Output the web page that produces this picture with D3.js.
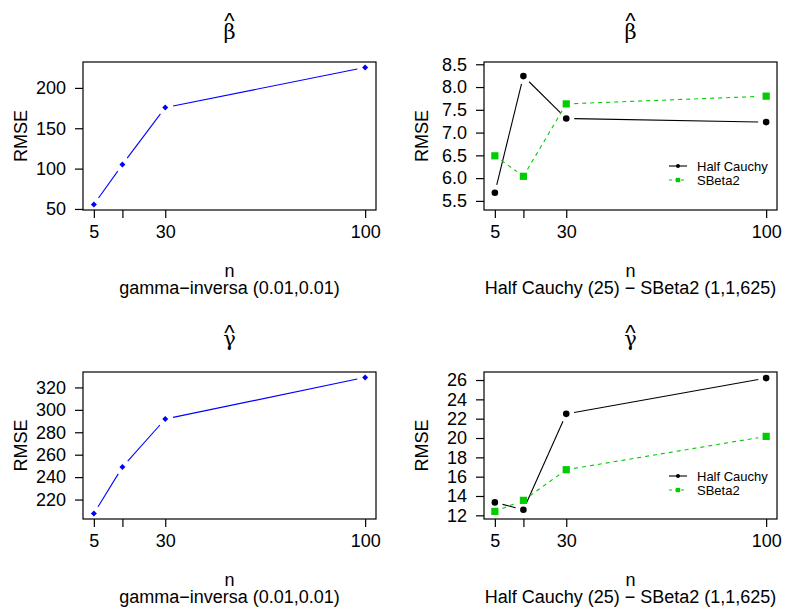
<!DOCTYPE html>
<html>
<head>
<meta charset="utf-8">
<script src="https://cdn.jsdelivr.net/npm/d3@7"></script>
<style>
  body { margin: 0; background: #fff; }
  svg { display: block; font-family: "Liberation Sans", Arial, Helvetica, sans-serif; }
  .box { fill: none; stroke: #000; stroke-width: 1.2; }
  .tick line { stroke: #000; stroke-width: 1.2; }
</style>
</head>
<body>
<svg width="785" height="613"></svg>
<script>
  // tamanhos amostrais e rótulos do eixo x (o 15 fica sem rótulo)
  const nVals = [5, 15, 30, 100];
  const xTickLabels = ['5', '', '30', '100'];

  // RMSE
  const betaGammaInv = [55.5, 105, 175.7, 225.3];
  const gammaGammaInv = [207.5, 249, 291.8, 328.9];
  const betaHalfCauchy = [5.68, 8.24, 7.31, 7.23];
  const betaSBeta2 = [6.49, 6.04, 7.63, 7.80];
  const gammaHalfCauchy = [13.34, 12.58, 22.5, 26.2];
  const gammaSBeta2 = [12.41, 13.55, 16.72, 20.17];

  const betaGammaInvTicks = [50, 100, 150, 200];
  const gammaGammaInvTicks = [220, 240, 260, 280, 300, 320];
  const betaPriorTicks = [5.5, 6.0, 6.5, 7.0, 7.5, 8.0, 8.5];
  const gammaPriorTicks = [12, 14, 16, 18, 20, 22, 24, 26];

  const legendLabels = ['Half Cauchy', 'SBeta2'];

  const svg = d3.select('svg');
  const green = '#00cd00';
  const gap = 8; // espaço do type="b"

  // estende o intervalo em 4% como o R faz
  const rExtend = ([a, b]) => {
    const e = (b - a) * 0.04;
    return [a - e, b + e];
  };

  const panels = [
    { x0: 83, x1: 376, y0: 62, y1: 210, sym: 'β', sub: 'gamma−inversa (0.01,0.01)',
      yDomain: rExtend(d3.extent(betaGammaInv)), yTicks: betaGammaInvTicks, fmt: d3.format('d'),
      series: [{ values: betaGammaInv, color: '#0000ff', shape: 'diamond', dash: null }] },
    { x0: 484, x1: 777, y0: 62, y1: 210, sym: 'β', sub: 'Half Cauchy (25) − SBeta2 (1,1,625)',
      yDomain: [5.30, 8.55], yTicks: betaPriorTicks, fmt: d3.format('.1f'), legend: true,
      series: [
        { values: betaHalfCauchy, color: '#000', shape: 'circle', dash: null },
        { values: betaSBeta2, color: green, shape: 'square', dash: '4,4' }
      ] },
    { x0: 83, x1: 376, y0: 372, y1: 519, sym: 'γ', sub: 'gamma−inversa (0.01,0.01)',
      yDomain: rExtend(d3.extent(gammaGammaInv)), yTicks: gammaGammaInvTicks, fmt: d3.format('d'),
      series: [{ values: gammaGammaInv, color: '#0000ff', shape: 'diamond', dash: null }] },
    { x0: 484, x1: 777, y0: 372, y1: 519, sym: 'γ', sub: 'Half Cauchy (25) − SBeta2 (1,1,625)',
      yDomain: [11.62, 26.83], yTicks: gammaPriorTicks, fmt: d3.format('d'), legend: true,
      series: [
        { values: gammaHalfCauchy, color: '#000', shape: 'circle', dash: null },
        { values: gammaSBeta2, color: green, shape: 'square', dash: '4,4' }
      ] }
  ];

  const drawSymbol = (g, shape, color, cx, cy, scale) => {
    const s = scale || 1;
    if (shape === 'circle') {
      g.append('circle').attr('cx', cx).attr('cy', cy).attr('r', 3.3 * s).attr('fill', color);
    } else if (shape === 'square') {
      const h = 3.6 * s;
      g.append('rect').attr('x', cx - h).attr('y', cy - h)
        .attr('width', 2 * h).attr('height', 2 * h).attr('fill', color);
    } else {
      const h = 3 * s;
      g.append('path')
        .attr('d', `M${cx},${cy - h}L${cx + h},${cy}L${cx},${cy + h}L${cx - h},${cy}Z`)
        .attr('fill', color);
    }
  };

  panels.forEach(p => {
    const g = svg.append('g');
    const x = d3.scaleLinear().domain(rExtend(d3.extent(nVals))).range([p.x0, p.x1]);
    const y = d3.scaleLinear().domain(p.yDomain).range([p.y1, p.y0]);
    const cx = (p.x0 + p.x1) / 2;
    const cy = (p.y0 + p.y1) / 2;

    // eixos
    const xAxis = g.append('g')
      .attr('transform', `translate(0,${p.y1})`)
      .call(d3.axisBottom(x).tickValues(nVals).tickSize(8).tickPadding(7)
        .tickFormat((d, i) => xTickLabels[i]));
    xAxis.select('.domain').remove();
    xAxis.selectAll('text').attr('font-size', 18).attr('fill', '#000')
      .attr('font-family', null);

    const yAxis = g.append('g')
      .attr('transform', `translate(${p.x0},0)`)
      .call(d3.axisLeft(y).tickValues(p.yTicks).tickSize(8).tickPadding(9).tickFormat(p.fmt));
    yAxis.select('.domain').remove();
    yAxis.selectAll('text').attr('font-size', 18).attr('fill', '#000')
      .attr('font-family', null);

    g.append('rect').attr('class', 'box')
      .attr('x', p.x0).attr('y', p.y0)
      .attr('width', p.x1 - p.x0).attr('height', p.y1 - p.y0);

    // títulos com chapéu
    const isBeta = p.sym === 'β';
    const symY = isBeta ? p.y0 - 23 : p.y0 - 26;
    g.append('text').attr('x', cx).attr('y', symY)
      .attr('text-anchor', 'middle').attr('font-size', 21)
      .attr('font-family', '"DejaVu Serif", serif')
      .text(p.sym);
    g.append('text').attr('x', cx).attr('y', isBeta ? symY - 11 : symY - 6)
      .attr('text-anchor', 'middle').attr('font-size', 22)
      .text('^');

    g.append('text').attr('x', cx).attr('y', p.y1 + 67)
      .attr('text-anchor', 'middle').attr('font-size', 18).text('n');
    g.append('text').attr('x', cx).attr('y', p.y1 + 84)
      .attr('text-anchor', 'middle').attr('font-size', 18).text(p.sub);
    g.append('text')
      .attr('transform', `translate(${p.x0 - 56},${cy}) rotate(-90)`)
      .attr('text-anchor', 'middle').attr('font-size', 18).text('RMSE');

    // séries (linhas com espaço nos pontos)
    p.series.forEach(s => {
      const pts = s.values.map((v, i) => [x(nVals[i]), y(v)]);
      d3.pairs(pts).forEach(([a, b]) => {
        const dx = b[0] - a[0], dy = b[1] - a[1];
        const len = Math.hypot(dx, dy);
        if (len <= 2 * gap) return;
        const ux = dx / len, uy = dy / len;
        g.append('line')
          .attr('x1', a[0] + ux * gap).attr('y1', a[1] + uy * gap)
          .attr('x2', b[0] - ux * gap).attr('y2', b[1] - uy * gap)
          .attr('stroke', s.color).attr('stroke-width', 1.1)
          .attr('stroke-dasharray', s.dash);
      });
      pts.forEach(([px, py]) => drawSymbol(g, s.shape, s.color, px, py));
    });

    if (p.legend) {
      const lg = g.append('g').attr('transform', `translate(${p.x0 + 185},${p.y0 + 104})`);
      p.series.forEach((s, i) => {
        const yy = i * 14;
        lg.append('line').attr('x1', 0).attr('x2', 18).attr('y1', yy).attr('y2', yy)
          .attr('stroke', s.color).attr('stroke-width', 1.1)
          .attr('stroke-dasharray', s.dash ? '3,3' : null);
        drawSymbol(lg, s.shape, s.color, 9, yy, 0.6);
        lg.append('text').attr('x', 28).attr('y', yy).attr('dy', '0.35em')
          .attr('font-size', 13).text(legendLabels[i]);
      });
    }
  });
</script>
</body>
</html>
